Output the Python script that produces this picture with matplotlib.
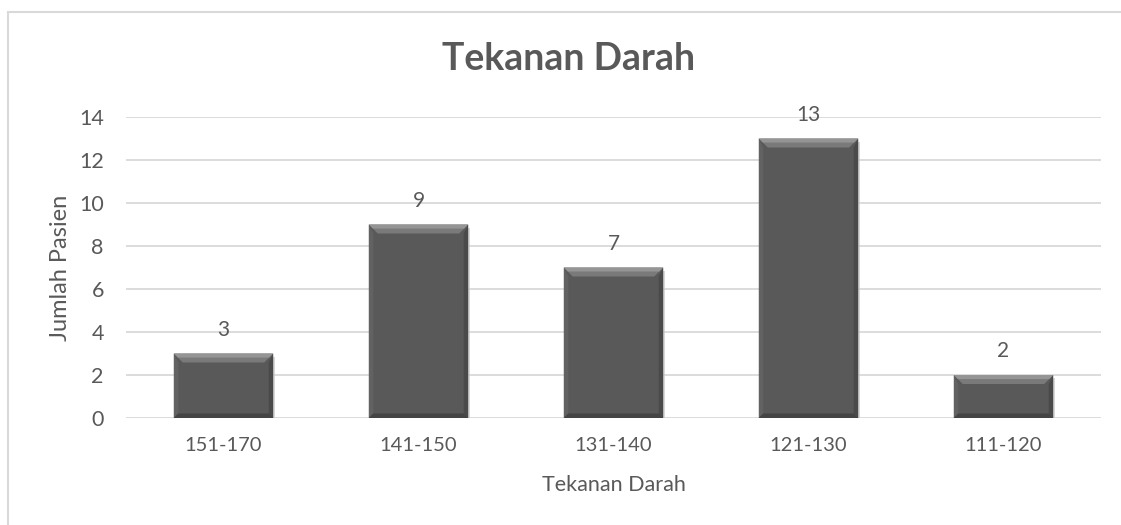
import matplotlib
matplotlib.use("Agg")
import matplotlib.pyplot as plt
from matplotlib.patches import Polygon, Rectangle
import numpy as np

categories = ["151-170", "141-150", "131-140", "121-130", "111-120"]
values = [3, 9, 7, 13, 2]
yticks = [0, 2, 4, 6, 8, 10, 12, 14]

title = "Tekanan Darah"
xlabel = "Tekanan Darah"
ylabel = "Jumlah Pasien"

W, H, DPI = 1121, 525, 100
fig = plt.figure(figsize=(W / DPI, H / DPI), dpi=DPI)
fig.patch.set_facecolor("white")

txt = "#595959"
grid_c = "#d9d9d9"
font = ["Lato", "DejaVu Sans"]

# outer chart border
fig.patches.append(Rectangle((8 / W, -0.1), 1.2, (H - 12) / H + 0.1,
                             transform=fig.transFigure, fill=False,
                             edgecolor="#d9d9d9", linewidth=1.5))

left, right = 126 / W, 1101 / W
bottom, top = 1 - 418 / H, 1 - 117 / H
ax = fig.add_axes([left, bottom, right - left, top - bottom])
ax.set_xlim(-0.5, len(categories) - 0.5)
ax.set_ylim(0, 14)

for s in ax.spines.values():
    s.set_visible(False)
ax.set_yticks(yticks)
ax.yaxis.grid(True, color=grid_c, linewidth=1.3)
ax.set_axisbelow(True)
ax.tick_params(axis="both", length=0, labelcolor=txt)
ax.tick_params(axis="y", pad=16, labelsize=15.5)
ax.tick_params(axis="x", pad=14, labelsize=14.5)
x = np.arange(len(categories))
ax.set_xticks(x)
ax.set_xticklabels(categories, fontfamily=font)
for lab in ax.get_yticklabels():
    lab.set_fontfamily(font)

bars = ax.bar(x, values, width=0.51, color="#595959", zorder=3)

# bevel effect derived from each bar's geometry
px_x = (len(categories)) / (right - left) / W  # data units per pixel (x)
px_y = 14 / ((top - bottom) * H)               # data units per pixel (y)
bx, by = 9 * px_x, 9 * px_y
for b in bars:
    x0, w, h = b.get_x(), b.get_width(), b.get_height()
    x1 = x0 + w
    # shadow
    ax.add_patch(Rectangle((x0 + 2 * px_x, -3 * px_y), w, h, facecolor="#c8c8c8",
                           edgecolor="none", zorder=2, alpha=0.7))
    # top bevel (two-tone for a gradient look)
    ax.add_patch(Polygon([(x0, h), (x1, h), (x1 - bx, h - by), (x0 + bx, h - by)],
                         facecolor="#7a7a7a", edgecolor="none", zorder=4))
    ax.add_patch(Polygon([(x0, h), (x1, h), (x1 - bx * 0.45, h - by * 0.45), (x0 + bx * 0.45, h - by * 0.45)],
                         facecolor="#959595", edgecolor="none", zorder=4))
    # left bevel
    ax.add_patch(Polygon([(x0, h), (x0 + bx * 0.5, h - by), (x0 + bx * 0.5, by * 0.5), (x0, 0)],
                         facecolor="#626262", edgecolor="none", zorder=4))
    # right bevel
    ax.add_patch(Polygon([(x1, h), (x1 - bx * 0.5, h - by), (x1 - bx * 0.5, by * 0.5), (x1, 0)],
                         facecolor="#4a4a4a", edgecolor="none", zorder=4))
    # bottom bevel
    ax.add_patch(Polygon([(x0, 0), (x1, 0), (x1 - bx * 0.5, by * 0.5), (x0 + bx * 0.5, by * 0.5)],
                         facecolor="#444444", edgecolor="none", zorder=4))
    # value label
    ax.annotate(f"{int(h)}", (b.get_x() + w / 2, h), xytext=(0, 10),
                textcoords="offset points", ha="center", va="bottom",
                fontsize=15, color=txt, fontfamily=font, zorder=6)

ax.set_xlabel(xlabel, fontsize=15.5, color=txt, fontfamily=font, labelpad=15)
ax.set_ylabel(ylabel, fontsize=17, color=txt, fontfamily=font, labelpad=6)
fig.text(569 / W, 1 - 59 / H, title, ha="center", va="center",
         fontsize=27, fontweight="bold", color=txt, fontfamily=font)

fig.savefig("out.png", dpi=DPI, facecolor="white")
